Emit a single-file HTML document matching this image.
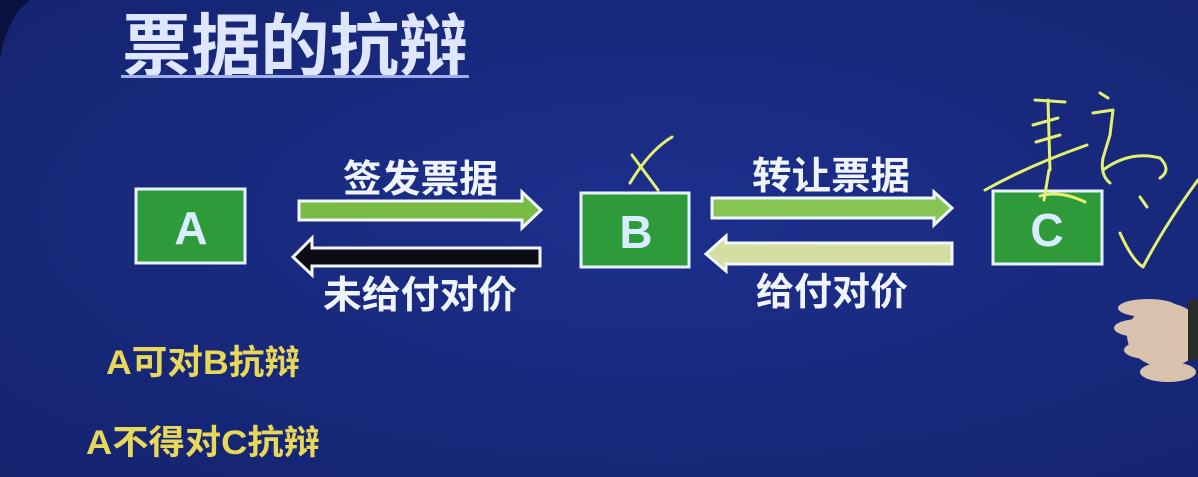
<!DOCTYPE html>
<html><head><meta charset="utf-8"><style>
html,body{margin:0;padding:0;width:1198px;height:477px;overflow:hidden;background:#182a80;}
svg{display:block}
text{font-family:"Liberation Sans","Noto Sans CJK SC",sans-serif;font-weight:bold;}
</style></head><body>
<svg width="1198" height="477" viewBox="0 0 1198 477" xmlns="http://www.w3.org/2000/svg">
<defs>
<radialGradient id="bg" cx="0.55" cy="0.45" r="0.8">
<stop offset="0" stop-color="#1c2f8c"/><stop offset="1" stop-color="#14236e"/>
</radialGradient>
</defs>
<rect width="1198" height="477" fill="url(#bg)"/>
<path d="M0,0 L30,0 Q5,20 0,60 Z" fill="#0a1240"/>
<!-- title -->
<text x="122" y="70" font-size="68" fill="#dfe6ff" textLength="346" lengthAdjust="spacingAndGlyphs">票据的抗辩</text>
<rect x="121" y="75" width="348" height="3" fill="#9fb0e8"/>
<!-- boxes -->
<rect x="136" y="189" width="109" height="74" fill="#2f9a3a" stroke="#e8f2ff" stroke-width="3"/>
<text x="191" y="244" font-size="46" fill="#d8eeff" text-anchor="middle">A</text>
<rect x="581" y="193" width="108" height="74" fill="#2f9a3a" stroke="#e8f2ff" stroke-width="3"/>
<text x="636" y="248" font-size="46" fill="#d8eeff" text-anchor="middle">B</text>
<rect x="993" y="191" width="109" height="73" fill="#2f9a3a" stroke="#e8f2ff" stroke-width="3"/>
<text x="1047" y="246" font-size="46" fill="#d8eeff" text-anchor="middle">C</text>
<!-- arrows -->
<path d="M299,201 L522,201 L522,192 L541,210 L522,228 L522,220 L299,220 Z" fill="#79bb44" stroke="#f2f6ff" stroke-width="3"/>
<path d="M540,248 L312,248 L312,238 L293,257 L312,275 L312,266 L540,266 Z" fill="#0c0c14" stroke="#f2f6ff" stroke-width="3"/>
<path d="M712,198 L934,198 L934,192 L952,208 L934,225 L934,218 L712,218 Z" fill="#86c454" stroke="#f2f6ff" stroke-width="3"/>
<path d="M952,243 L726,243 L726,236 L706,254 L726,271 L726,264 L952,264 Z" fill="#d4dea0" stroke="#f2f6ff" stroke-width="3"/>
<!-- arrow labels -->
<text x="343" y="192" font-size="38" fill="#f0f4ff" textLength="155" lengthAdjust="spacingAndGlyphs">签发票据</text>
<text x="323" y="308" font-size="38" fill="#f0f4ff" textLength="194" lengthAdjust="spacingAndGlyphs">未给付对价</text>
<text x="752" y="189" font-size="38" fill="#f0f4ff" textLength="158" lengthAdjust="spacingAndGlyphs">转让票据</text>
<text x="756" y="305" font-size="38" fill="#f0f4ff" textLength="152" lengthAdjust="spacingAndGlyphs">给付对价</text>
<!-- yellow notes -->
<text x="106" y="374" font-size="34" fill="#e8d85a" textLength="194" lengthAdjust="spacingAndGlyphs">A可对B抗辩</text>
<text x="86" y="454" font-size="34" fill="#e8d85a" textLength="234" lengthAdjust="spacingAndGlyphs">A不得对C抗辩</text>
<!-- handwriting -->
<g fill="none" stroke="#e4f070" stroke-width="3" stroke-linecap="round" stroke-linejoin="round">
<path d="M632,155 L658,190 M672,137 Q650,150 630,183"/>
<path d="M985,190 Q1030,165 1087,145"/>
<path d="M1035,100 L1065,102 M1033,125 L1058,118 M1036,142 L1060,135 M1048,100 L1050,170 M1049,170 L1044,200 M1040,196 Q1060,190 1085,202"/>
<path d="M1100,93 L1108,98 M1093,113 L1113,110 L1110,135 L1103,158 Q1100,175 1110,183 M1103,170 Q1130,150 1160,158 Q1172,170 1160,178"/>
<path d="M1140,197 L1147,207 M1120,233 Q1132,260 1143,267 Q1165,225 1198,180"/>
</g>
<!-- hand -->
<g fill="#d8c2ae">
<ellipse cx="1165" cy="335" rx="38" ry="32"/>
<ellipse cx="1148" cy="308" rx="30" ry="9"/>
<ellipse cx="1140" cy="328" rx="26" ry="9"/>
<ellipse cx="1148" cy="350" rx="24" ry="9"/>
<ellipse cx="1168" cy="372" rx="28" ry="10"/>
</g>
<rect x="1188" y="300" width="10" height="60" fill="#2a2a2a"/>
</svg>
</body></html>
